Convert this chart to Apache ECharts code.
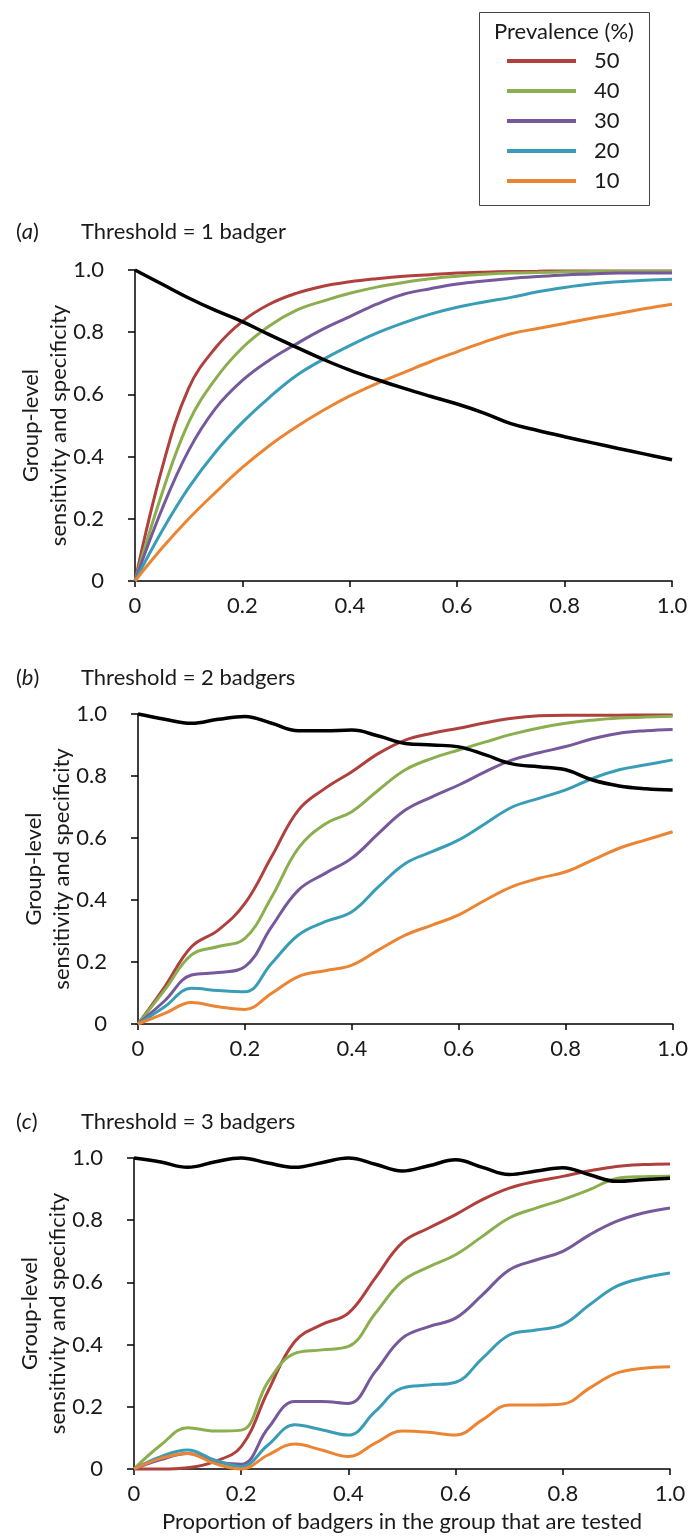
<!DOCTYPE html>
<html>
<head>
<meta charset="utf-8">
<script src="https://cdn.jsdelivr.net/npm/echarts@6/dist/echarts.min.js"></script>
<style>
  html, body { margin: 0; padding: 0; background: #fff; }
  #chart { width: 691px; height: 1537px; }
</style>
</head>
<body>
<div id="chart"></div>
<script>
// proportion of badgers tested (read every 0.05)
var xs = [0, 0.05, 0.1, 0.15, 0.2, 0.25, 0.3, 0.35, 0.4, 0.45, 0.5,
          0.55, 0.6, 0.65, 0.7, 0.75, 0.8, 0.85, 0.9, 0.95, 1.0];
var prevalence = ['50', '40', '30', '20', '10'];
var colors = ['#B0403D', '#8BAE4E', '#76599C', '#3A9DB7', '#EB8534'];

// (a) threshold = 1 badger
var specA = [1.0, 0.955, 0.91, 0.87, 0.834, 0.792, 0.752, 0.713, 0.678, 0.648, 0.62,
             0.594, 0.569, 0.54, 0.506, 0.484, 0.464, 0.445, 0.426, 0.408, 0.39];
var p50A = [0, 0.36, 0.62, 0.75, 0.835, 0.89, 0.925, 0.948, 0.962, 0.972, 0.98,
            0.985, 0.99, 0.993, 0.995, 0.996, 0.997, 0.997, 0.997, 0.997, 0.997];
var p40A = [0, 0.28, 0.51, 0.65, 0.75, 0.82, 0.87, 0.9, 0.925, 0.945, 0.96,
            0.972, 0.98, 0.986, 0.99, 0.992, 0.994, 0.995, 0.995, 0.995, 0.995];
var p30A = [0, 0.23, 0.42, 0.555, 0.645, 0.71, 0.762, 0.81, 0.85, 0.89, 0.922,
            0.94, 0.955, 0.965, 0.973, 0.979, 0.984, 0.987, 0.99, 0.99, 0.99];
var p20A = [0, 0.16, 0.3, 0.415, 0.51, 0.59, 0.66, 0.712, 0.757, 0.797, 0.83,
            0.858, 0.88, 0.897, 0.912, 0.93, 0.944, 0.955, 0.962, 0.967, 0.97];
var p10A = [0, 0.105, 0.2, 0.285, 0.365, 0.435, 0.495, 0.548, 0.595, 0.635, 0.67,
            0.705, 0.737, 0.768, 0.795, 0.812, 0.828, 0.845, 0.86, 0.876, 0.89];

// (b) threshold = 2 badgers
var specB = [1.0, 0.983, 0.97, 0.983, 0.992, 0.97, 0.946, 0.946, 0.948, 0.929, 0.905,
             0.9, 0.894, 0.868, 0.839, 0.83, 0.82, 0.787, 0.768, 0.759, 0.755];
var p50B = [0, 0.12, 0.249, 0.303, 0.389, 0.54, 0.69, 0.76, 0.814, 0.873, 0.916,
            0.938, 0.954, 0.972, 0.986, 0.994, 0.996, 0.996, 0.996, 0.997, 0.997];
var p40B = [0, 0.11, 0.223, 0.25, 0.276, 0.41, 0.567, 0.645, 0.685, 0.755, 0.82,
            0.857, 0.884, 0.91, 0.935, 0.955, 0.97, 0.98, 0.987, 0.99, 0.993];
var p30B = [0, 0.075, 0.158, 0.166, 0.185, 0.314, 0.432, 0.486, 0.535, 0.615, 0.69,
            0.733, 0.771, 0.814, 0.852, 0.875, 0.895, 0.92, 0.938, 0.946, 0.95];
var p20B = [0, 0.056, 0.115, 0.108, 0.104, 0.196, 0.287, 0.33, 0.362, 0.443, 0.518,
            0.556, 0.594, 0.647, 0.7, 0.728, 0.755, 0.792, 0.82, 0.836, 0.852];
var p10B = [0, 0.034, 0.069, 0.056, 0.047, 0.099, 0.153, 0.172, 0.19, 0.239, 0.287,
            0.319, 0.352, 0.4, 0.443, 0.47, 0.491, 0.529, 0.567, 0.594, 0.62];

// (c) threshold = 3 badgers
var specC = [1.0, 0.987, 0.97, 0.987, 1.0, 0.984, 0.97, 0.985, 1.0, 0.98, 0.958,
             0.975, 0.994, 0.97, 0.947, 0.958, 0.969, 0.946, 0.925, 0.93, 0.935];
var p50C = [0, 0, 0.004, 0.024, 0.072, 0.25, 0.41, 0.464, 0.501, 0.614, 0.727,
            0.775, 0.818, 0.866, 0.903, 0.925, 0.941, 0.959, 0.973, 0.979, 0.981];
var p40C = [0, 0.077, 0.133, 0.122, 0.125, 0.28, 0.372, 0.383, 0.394, 0.5, 0.603,
            0.65, 0.689, 0.748, 0.807, 0.839, 0.866, 0.898, 0.934, 0.94, 0.941];
var p30C = [0, 0.03, 0.05, 0.024, 0.015, 0.131, 0.217, 0.217, 0.211, 0.313, 0.42,
            0.458, 0.485, 0.56, 0.64, 0.672, 0.7, 0.753, 0.796, 0.823, 0.839];
var p20C = [0, 0.04, 0.061, 0.029, 0.008, 0.077, 0.142, 0.126, 0.109, 0.185, 0.26,
            0.27, 0.279, 0.356, 0.431, 0.447, 0.464, 0.528, 0.587, 0.614, 0.63];
var p10C = [0, 0.034, 0.05, 0.018, 0.0, 0.045, 0.08, 0.061, 0.04, 0.083, 0.122,
            0.118, 0.109, 0.158, 0.206, 0.206, 0.209, 0.26, 0.308, 0.324, 0.329];

var panels = [
  { spec: specA, sens: [p50A, p40A, p30A, p20A, p10A] },
  { spec: specB, sens: [p50B, p40B, p30B, p20B, p10B] },
  { spec: specC, sens: [p50C, p40C, p30C, p20C, p10C] }
];

var font = 'Lato, "Open Sans", sans-serif';
var fs = 22;
var ink = '#1a1a1a';

function pairs(vals) {
  return xs.map(function (x, i) { return [x, vals[i]]; });
}
function fmt(v) { return v === 0 ? '0' : v.toFixed(1); }

var chart = echarts.init(document.getElementById('chart'));

var grids = [
  { left: 135, width: 537, top: 270, height: 311 },
  { left: 138, width: 537, top: 714, height: 310 },
  { left: 134, width: 536, top: 1158, height: 311 }
];

var xAxes = [], yAxes = [], series = [];
grids.forEach(function (g, k) {
  xAxes.push({
    type: 'value', gridIndex: k, min: 0, max: 1, interval: 0.2,
    axisLine: { lineStyle: { color: '#000', width: 1.5 } },
    axisTick: { show: true, length: 6, lineStyle: { color: '#000', width: 1.5 } },
    splitLine: { show: false },
    axisLabel: { formatter: fmt, color: ink, fontSize: fs, fontFamily: font, margin: 14 },
    name: k === 2 ? 'Proportion of badgers in the group that are tested' : '',
    nameLocation: 'middle', nameGap: 42, nameMoveOverlap: false,
    nameTextStyle: { color: ink, fontSize: fs, fontFamily: font }
  });
  yAxes.push({
    type: 'value', gridIndex: k, min: 0, max: 1, interval: 0.2,
    axisLine: { show: true, lineStyle: { color: '#000', width: 1.5 } },
    axisTick: { show: true, length: 7, lineStyle: { color: '#000', width: 1.5 } },
    splitLine: { show: false },
    axisLabel: { formatter: fmt, color: ink, fontSize: fs, fontFamily: font, margin: 31 },
    name: 'Group-level\nsensitivity and specificity',
    nameLocation: 'middle', nameGap: 62, nameRotate: 90, nameMoveOverlap: false,
    nameTextStyle: { color: ink, fontSize: fs, fontFamily: font, lineHeight: 28 }
  });
  panels[k].sens.forEach(function (vals, j) {
    series.push({
      name: prevalence[j], type: 'line', xAxisIndex: k, yAxisIndex: k,
      data: pairs(vals), smooth: 0.4, showSymbol: false, clip: false,
      color: colors[j], lineStyle: { width: 3, color: colors[j] }, z: 2
    });
  });
  series.push({
    name: 'Specificity', type: 'line', xAxisIndex: k, yAxisIndex: k,
    data: pairs(panels[k].spec), smooth: 0.4, showSymbol: false, clip: false,
    color: '#000', lineStyle: { width: 3.5, color: '#000' }, z: 3
  });
});

var titles = [
  { y: 232, tag: 'a', text: 'Threshold = 1 badger' },
  { y: 678, tag: 'b', text: 'Threshold = 2 badgers' },
  { y: 1122, tag: 'c', text: 'Threshold = 3 badgers' }
];
var graphics = [
  { type: 'rect', left: 477, top: 10, shape: { width: 170, height: 193 },
    style: { fill: 'none', stroke: '#444', lineWidth: 1 } },
  { type: 'text', x: 564, y: 32,
    style: { text: 'Prevalence (%)', fill: ink, font: fs + 'px ' + font, align: 'center', verticalAlign: 'middle' } }
];
titles.forEach(function (t) {
  graphics.push({ type: 'text', x: 16, y: t.y,
    style: { text: '({i|' + t.tag + '})', fill: ink, font: fs + 'px ' + font, verticalAlign: 'middle',
      rich: { i: { fontStyle: 'italic', fontSize: fs, fontFamily: font } } } });
  graphics.push({ type: 'text', x: 81, y: t.y,
    style: { text: t.text, fill: ink, font: fs + 'px ' + font, verticalAlign: 'middle' } });
});

chart.setOption({
  animation: false,
  grid: grids,
  xAxis: xAxes,
  yAxis: yAxes,
  legend: {
    data: prevalence, orient: 'vertical', left: 507, top: 50, padding: 0,
    icon: 'rect', itemWidth: 69, itemHeight: 4, itemGap: 8, selectedMode: false,
    textStyle: { color: ink, fontSize: fs, fontFamily: font, lineHeight: 20, padding: [0, 0, 0, 13] }
  },
  graphic: graphics,
  series: series
});
</script>
</body>
</html>
